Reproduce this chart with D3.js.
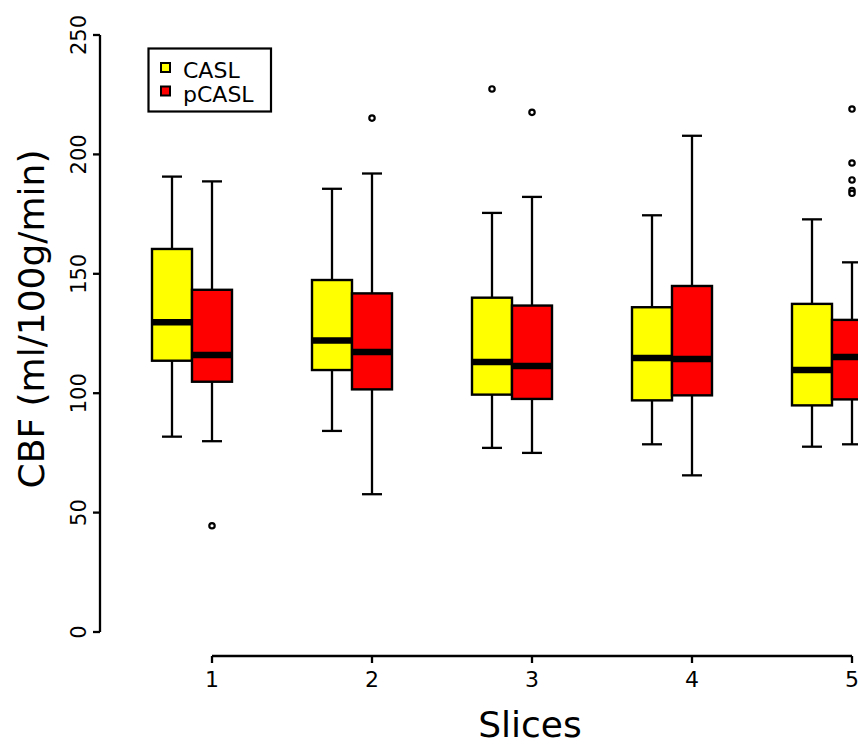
<!DOCTYPE html>
<html>
<head>
<meta charset="utf-8">
<script src="https://cdn.jsdelivr.net/npm/d3@7"></script>
<style>
  html, body { margin: 0; padding: 0; background: #fff; }
  svg { display: block; font-family: "DejaVu Sans", sans-serif; }
</style>
</head>
<body>
<svg id="chart" width="858" height="744"></svg>
<script>
// ---- data ----
const slices = [1, 2, 3, 4, 5];
const yTicks = [0, 50, 100, 150, 200, 250];
const seriesNames = ["CASL", "pCASL"];
const seriesColors = ["#ffff00", "#ff0000"];

const caslLow    = [81.8, 84.2, 77.1, 78.6, 77.6];
const caslQ1     = [113.6, 109.7, 99.4, 97.0, 94.9];
const caslMedian = [129.7, 122.1, 113.1, 114.7, 109.7];
const caslQ3     = [160.4, 147.4, 140.0, 136.0, 137.4];
const caslHigh   = [190.7, 185.6, 175.5, 174.5, 172.8];
const caslOutliers = [[], [], [227.4], [], []];

const pcaslLow    = [79.9, 57.7, 75.0, 65.6, 78.6];
const pcaslQ1     = [104.8, 101.6, 97.6, 99.1, 97.4];
const pcaslMedian = [116.0, 117.3, 111.4, 114.3, 115.2];
const pcaslQ3     = [143.3, 141.8, 136.7, 144.9, 130.7];
const pcaslHigh   = [188.7, 192.0, 182.2, 207.8, 154.8];
const pcaslOutliers = [[44.5], [215.2], [217.6], [], [219.0, 196.4, 189.3, 184.9, 183.7]];

// ---- build series from the arrays ----
const groups = [
  { name: "CASL", color: seriesColors[0], offset: -0.25,
    stats: slices.map((s, i) => ({ slice: s, low: caslLow[i], q1: caslQ1[i], med: caslMedian[i], q3: caslQ3[i], high: caslHigh[i], out: caslOutliers[i] })) },
  { name: "pCASL", color: seriesColors[1], offset: 0,
    stats: slices.map((s, i) => ({ slice: s, low: pcaslLow[i], q1: pcaslQ1[i], med: pcaslMedian[i], q3: pcaslQ3[i], high: pcaslHigh[i], out: pcaslOutliers[i] })) }
];

const svg = d3.select("#chart");
const x = d3.scaleLinear().domain([1, 5]).range([212, 852]);
const y = d3.scaleLinear().domain([0, 250]).range([632, 35]);
const boxW = x(1.25) - x(1);   // 0.25 units wide
const capW = boxW / 2;
const lw = 2.3;

// ---- boxes ----
groups.forEach(g => {
  const gg = svg.append("g");
  g.stats.forEach(d => {
    const cx = x(d.slice + g.offset);
    gg.append("line").attr("x1", cx).attr("x2", cx).attr("y1", y(d.q3)).attr("y2", y(d.high))
      .attr("stroke", "#000").attr("stroke-width", lw);
    gg.append("line").attr("x1", cx).attr("x2", cx).attr("y1", y(d.q1)).attr("y2", y(d.low))
      .attr("stroke", "#000").attr("stroke-width", lw);
    gg.append("line").attr("x1", cx - capW / 2).attr("x2", cx + capW / 2).attr("y1", y(d.high)).attr("y2", y(d.high))
      .attr("stroke", "#000").attr("stroke-width", lw);
    gg.append("line").attr("x1", cx - capW / 2).attr("x2", cx + capW / 2).attr("y1", y(d.low)).attr("y2", y(d.low))
      .attr("stroke", "#000").attr("stroke-width", lw);
    gg.append("rect").attr("x", cx - boxW / 2).attr("y", y(d.q3))
      .attr("width", boxW).attr("height", y(d.q1) - y(d.q3))
      .attr("fill", g.color).attr("stroke", "#000").attr("stroke-width", 2.4);
    gg.append("line").attr("x1", cx - boxW / 2).attr("x2", cx + boxW / 2).attr("y1", y(d.med)).attr("y2", y(d.med))
      .attr("stroke", "#000").attr("stroke-width", 6.5);
    d.out.forEach(v => {
      gg.append("circle").attr("cx", cx).attr("cy", y(v)).attr("r", 2.7)
        .attr("fill", "#fff").attr("stroke", "#000").attr("stroke-width", 2.2);
    });
  });
});

// ---- y axis ----
const yAxisG = svg.append("g").attr("transform", "translate(100,0)");
yAxisG.append("line").attr("x1", 0).attr("x2", 0).attr("y1", y(0)).attr("y2", y(250))
  .attr("stroke", "#000").attr("stroke-width", lw);
yTicks.forEach(t => {
  yAxisG.append("line").attr("x1", 0).attr("x2", -7).attr("y1", y(t)).attr("y2", y(t))
    .attr("stroke", "#000").attr("stroke-width", lw);
  yAxisG.append("text")
    .attr("transform", `translate(-14,${y(t)}) rotate(-90)`)
    .attr("text-anchor", "middle")
    .attr("font-size", 21)
    .text(t);
});

// ---- x axis ----
const xAxisG = svg.append("g").attr("transform", "translate(0,656)");
xAxisG.append("line").attr("x1", x(1)).attr("x2", x(5)).attr("y1", 0).attr("y2", 0)
  .attr("stroke", "#000").attr("stroke-width", lw);
slices.forEach(s => {
  xAxisG.append("line").attr("x1", x(s)).attr("x2", x(s)).attr("y1", 0).attr("y2", 7)
    .attr("stroke", "#000").attr("stroke-width", lw);
  xAxisG.append("text").attr("x", x(s)).attr("y", 31)
    .attr("text-anchor", "middle").attr("font-size", 22).text(s);
});

// ---- axis titles ----
svg.append("text").attr("x", 530).attr("y", 737).attr("text-anchor", "middle")
  .attr("font-size", 36).text("Slices");
svg.append("text").attr("transform", "translate(44,319) rotate(-90)").attr("text-anchor", "middle")
  .attr("font-size", 36).text("CBF (ml/100g/min)");

// ---- legend ----
const lg = svg.append("g");
lg.append("rect").attr("x", 148.5).attr("y", 48.5).attr("width", 122.5).attr("height", 63)
  .attr("fill", "#fff").attr("stroke", "#000").attr("stroke-width", 2.2);
seriesNames.forEach((n, i) => {
  lg.append("rect").attr("x", 161).attr("y", 63 + i * 23.5).attr("width", 9).attr("height", 9)
    .attr("fill", seriesColors[i]).attr("stroke", "#000").attr("stroke-width", 2);
  lg.append("text").attr("x", 183).attr("y", 78 + i * 23.5).attr("font-size", 22).text(n);
});
</script>
</body>
</html>
